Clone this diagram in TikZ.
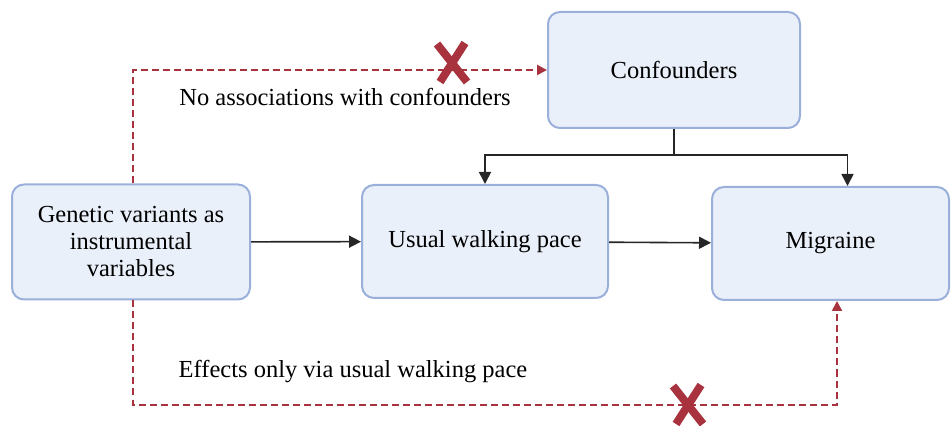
\documentclass[tikz,border=0pt]{standalone}
\usepackage{fontspec}
\setmainfont{Liberation Serif}
\usetikzlibrary{arrows.meta}
\usetikzlibrary{positioning}
\definecolor{boxfill}{HTML}{EAF0FA}
\definecolor{boxline}{HTML}{9AB0DA}
\definecolor{nored}{HTML}{A8323E}
\tikzset{
    factor/.style={draw=boxline, fill=boxfill, line width=1pt, rounded corners=6pt, align=center, font=\fontsize{12.25}{13.5}\selectfont},
    note/.style={font=\fontsize{12.25}{13.5}\selectfont},
    link/.style={-{Triangle[length=6pt,width=6pt]}, line width=0.8pt, draw=black!85},
    nolink/.style={-{Triangle[length=5pt,width=5pt]}, draw=nored, line width=1pt, dash pattern=on 3.5pt off 2pt},
    cross/.pic={
        % two thick strokes
        \draw[nored, line width=4pt] (-7.5pt,9.5pt) -- (7.5pt,-9.5pt);
        \draw[nored, line width=4pt] (6.5pt,10pt) -- (-6pt,-9.5pt);
},
}

\begin{document}
\begin{tikzpicture}[x=0.5pt, y=-0.5pt]
            \useasboundingbox (0,0) rectangle (951,426);

            % Boxes
            \node[factor, minimum width=119pt, minimum height=57.5pt] (gene) at (131,242) {Genetic variants as\\instrumental\\variables};
            \node[factor, minimum width=123pt, minimum height=56.5pt] (walk) at (485,241.5) {Usual walking pace};
            \node[factor, minimum width=118.5pt, minimum height=56.5pt] (migr) at (830.5,243.5) {Migraine};
            \node[factor, minimum width=126pt, minimum height=58pt] (conf) at (674,70) {Confounders};

            % Causal paths
            \coordinate (fork) at (conf.south |- 0,155);
            \draw[line width=0.8pt, draw=black!85] (conf.south) -- (fork);
            \draw[link] (fork) -| (walk.north);
            \draw[link] (fork) -| ([xshift=8.5pt]migr.north);
            \draw[link] (gene) -- (walk);
            \draw[link] (walk) -- (migr);

            % Excluded paths
            \draw[nolink] ([xshift=1pt]gene.north) |- (conf.west);
            \draw[nolink] ([xshift=1pt]gene.south) -- ++(0,104) -| ([xshift=3.25pt]migr.south);
            \node[note] (assoc) at (345,97) {No associations with confounders};
            \node[note] (effect) at (353,372) {Effects only via usual walking pace};
            \pic at (452,63) {cross};
            \pic at (688,405) {cross};

\end{tikzpicture}
\end{document}
